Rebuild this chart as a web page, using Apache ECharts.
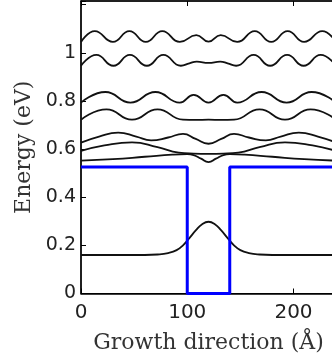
<!DOCTYPE html>
<html>
<head>
<meta charset="utf-8">
<script src="https://cdn.jsdelivr.net/npm/echarts@6/dist/echarts.min.js"></script>
<style>
  html, body { margin: 0; padding: 0; background: #fff; }
  #chart { width: 332px; height: 364px; }
</style>
</head>
<body>
<div id="chart"></div>
<script>
// x in Angstrom, y in eV
const xTicks = [0, 100, 200];
const yTicks = [0, 0.2, 0.4, 0.6, 0.8, 1];

// conduction band profile (blue)
const potential = [[0, 0.525], [100, 0.525], [100, 0], [140, 0], [140, 0.525], [240, 0.525]];

// |psi|^2 offset by level energy
const ground = [[0, 0.16], [60, 0.16], [72, 0.162], [82, 0.168], [90, 0.18], [96, 0.2], [102, 0.23], [108, 0.262], [114, 0.288], [120, 0.298], [126, 0.288], [132, 0.262], [138, 0.23], [144, 0.2], [150, 0.18], [158, 0.168], [168, 0.162], [180, 0.16], [240, 0.16]];
const state1 = [[0, 1.045], [13, 1.09], [30, 1.045], [45.5, 1.09], [61, 1.045], [76.5, 1.09], [93, 1.045], [108.5, 1.073], [120, 1.046], [131.5, 1.073], [147, 1.045], [163.5, 1.09], [179, 1.045], [194.5, 1.09], [210, 1.045], [227, 1.09], [240, 1.045]];
const state2 = [[0, 0.946], [14.5, 0.991], [30.5, 0.946], [46, 0.991], [62, 0.946], [77.5, 0.991], [94, 0.946], [102, 0.956], [109, 0.963], [120, 0.958], [131, 0.963], [138, 0.956], [146, 0.946], [162.5, 0.991], [178, 0.946], [194, 0.991], [209.5, 0.946], [225.5, 0.991], [240, 0.946]];
const state3 = [[0, 0.793], [23, 0.837], [46.5, 0.793], [70, 0.837], [93, 0.793], [106, 0.825], [120, 0.793], [134, 0.825], [147, 0.793], [170, 0.837], [193.5, 0.793], [217, 0.837], [240, 0.793]];
const state4 = [[0, 0.722], [24, 0.765], [48, 0.722], [72, 0.765], [96, 0.722], [108, 0.721], [120, 0.722], [132, 0.721], [144, 0.722], [168, 0.765], [192, 0.722], [216, 0.765], [240, 0.722]];
const state5 = [[0, 0.627], [17, 0.652], [35, 0.668], [52, 0.652], [66, 0.636], [82, 0.648], [96, 0.663], [108, 0.642], [120, 0.622], [132, 0.642], [144, 0.663], [158, 0.648], [174, 0.636], [188, 0.652], [205, 0.668], [223, 0.652], [240, 0.627]];
const state6 = [[0, 0.592], [22, 0.615], [48, 0.628], [72, 0.608], [92, 0.585], [106, 0.581], [120, 0.58], [134, 0.581], [148, 0.585], [168, 0.608], [192, 0.628], [218, 0.615], [240, 0.592]];
const state7 = [[0, 0.552], [30, 0.558], [60, 0.568], [86, 0.577], [100, 0.579], [106, 0.575], [113, 0.56], [120, 0.546], [127, 0.56], [134, 0.575], [140, 0.579], [154, 0.577], [180, 0.568], [210, 0.558], [240, 0.552]];

const states = [ground, state1, state2, state3, state4, state5, state6, state7];

const chart = echarts.init(document.getElementById('chart'));

const tickFont = { fontFamily: 'DejaVu Sans', fontSize: 19, color: '#222' };
const nameFont = { fontFamily: 'DejaVu Serif', fontSize: 22, color: '#333' };

const waveSeries = states.map((s) => ({
    type: 'line',
    data: s,
    smooth: 0.5,
    showSymbol: false,
    lineStyle: { color: '#111', width: 1.8 },
    z: 2
}));

const option = {
    backgroundColor: '#fff',
    animation: false,
    grid: {
        left: 81, top: 1, width: 255, height: 292.5,
        outerBoundsMode: 'none',
        show: true, borderColor: '#000', borderWidth: 1
    },
    xAxis: [{
        type: 'value',
        min: 0,
        max: 240,
        interval: 100,
        name: 'Growth direction (Å)',
        nameLocation: 'middle',
        nameGap: 39,
        nameTextStyle: nameFont,
        axisLine: { lineStyle: { color: '#000', width: 1.5 } },
        axisTick: { inside: true, length: 5, lineStyle: { color: '#000' } },
        axisLabel: Object.assign({}, tickFont, {
            fontSize: 20,
            margin: 9,
            formatter: (v) => (xTicks.indexOf(v) >= 0 ? String(v) : '')
        }),
        splitLine: { show: false }
    }, {
        type: 'value',
        position: 'top',
        min: 0,
        max: 240,
        interval: 100,
        axisLine: { lineStyle: { color: '#000', width: 1.5 } },
        axisTick: { inside: true, length: 5, lineStyle: { color: '#000' } },
        axisLabel: { show: false },
        splitLine: { show: false }
    }],
    yAxis: {
        type: 'value',
        min: 0,
        max: 1.215,
        interval: 0.2,
        name: 'Energy (eV)',
        nameLocation: 'middle',
        nameGap: 45,
        nameTextStyle: nameFont,
        axisLine: { lineStyle: { color: '#000', width: 1.5 } },
        axisTick: { inside: true, length: 5, lineStyle: { color: '#000' } },
        axisLabel: Object.assign({
            margin: 5,
            formatter: (v) => (yTicks.indexOf(+v.toFixed(1)) >= 0 ? String(+v.toFixed(1)) : '')
        }, tickFont),
        splitLine: { show: false }
    },
    series: waveSeries.concat([{
        type: 'line',
        data: potential,
        showSymbol: false,
        lineStyle: { color: '#0000ff', width: 3 },
        z: 3
    }])
};

chart.setOption(option);
</script>
</body>
</html>
